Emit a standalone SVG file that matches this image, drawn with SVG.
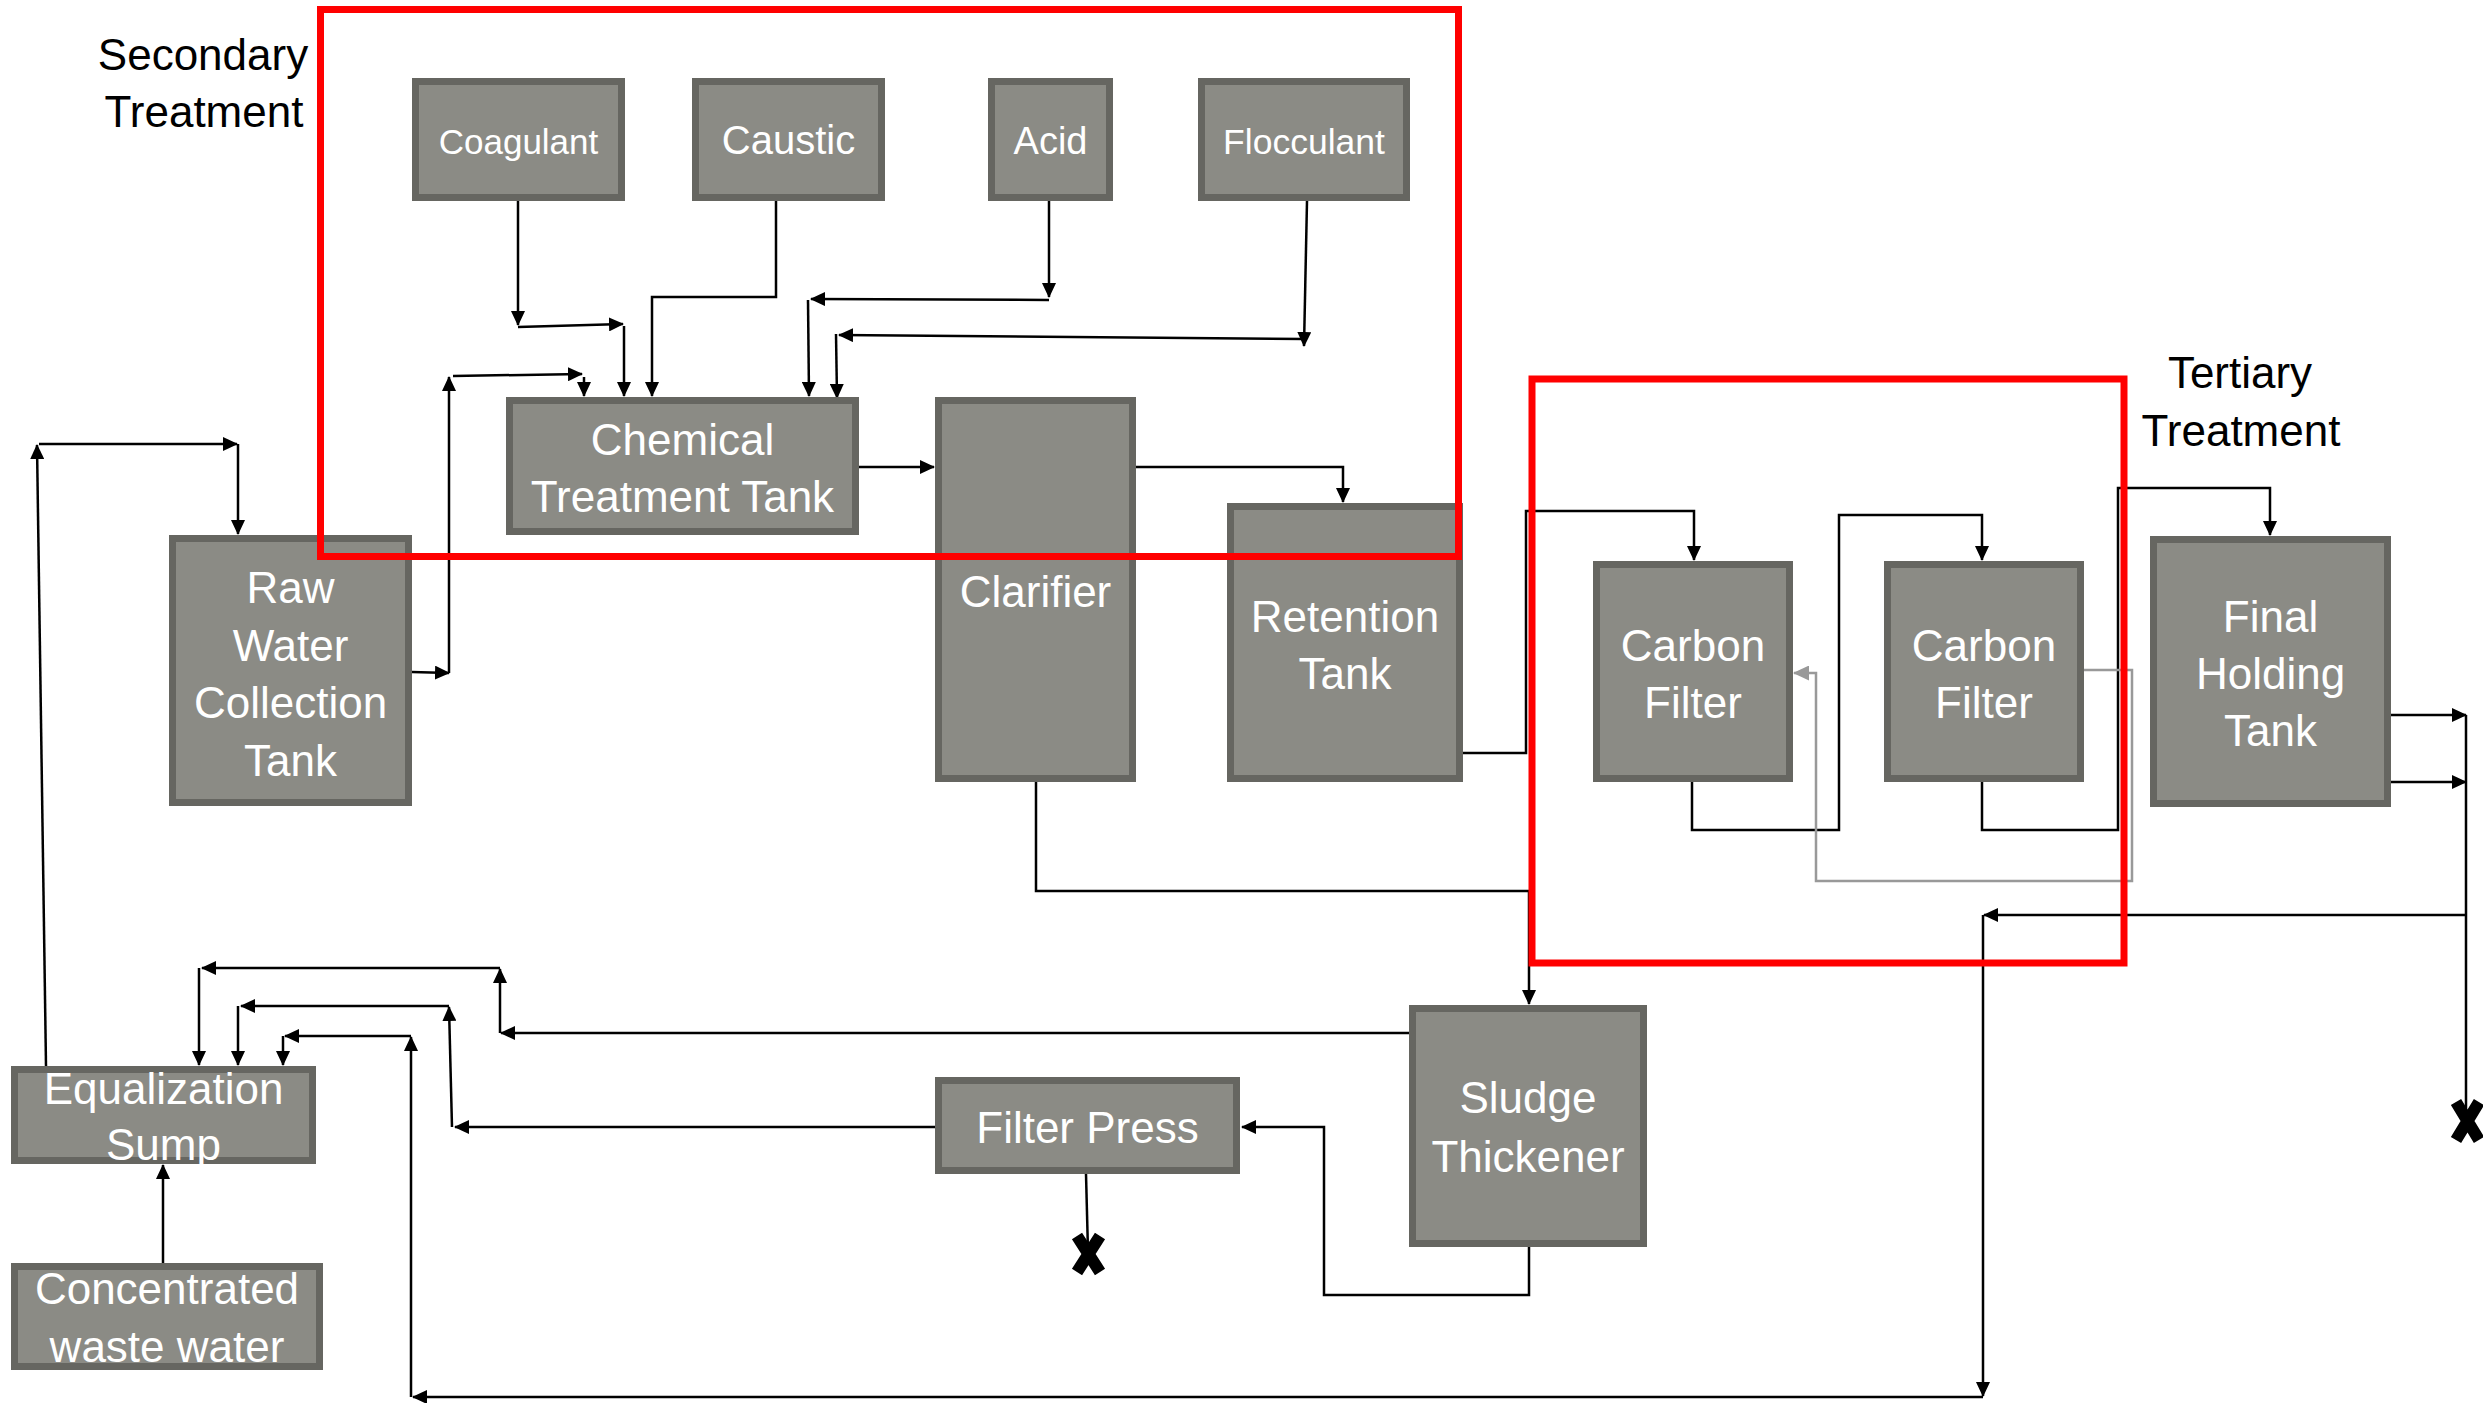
<svg xmlns="http://www.w3.org/2000/svg" width="2483" height="1403" viewBox="0 0 2483 1403">
<style>
.box{fill:#8b8b85;stroke:#666661;stroke-width:7}
.lbl{fill:#ffffff;font-family:"Liberation Sans",Arial,sans-serif;font-size:44px;text-anchor:middle}
.sm{font-size:36px}
.hdr{fill:#000000;font-family:"Liberation Sans",Arial,sans-serif;font-size:44px;text-anchor:middle}
.ln{fill:none;stroke:#000;stroke-width:2.5}
.ar{fill:none;stroke:#000;stroke-width:2.5;marker-end:url(#a)}
.gr{fill:none;stroke:#999;stroke-width:2.5;marker-end:url(#g)}
.red{fill:none;stroke:#ff0000;stroke-width:7}
.x{stroke:#000;stroke-width:12}
</style>
<defs>
<marker id="a" viewBox="0 0 15 14" refX="14" refY="7" markerWidth="15" markerHeight="14" markerUnits="userSpaceOnUse" orient="auto"><path d="M0,0L15,7L0,14z" fill="#000"/></marker>
<marker id="g" viewBox="0 0 16 15" refX="15" refY="7.5" markerWidth="16" markerHeight="15" markerUnits="userSpaceOnUse" orient="auto"><path d="M0,0L16,7.5L0,15z" fill="#999"/></marker>
</defs>

<text class="hdr" x="203" y="70">Secondary</text>
<text class="hdr" x="204" y="127">Treatment</text>
<text class="hdr" x="2240" y="388">Tertiary</text>
<text class="hdr" x="2241" y="446">Treatment</text>

<g id="connectors">
<path class="ar" d="M518,201V325"/>
<path class="ar" d="M518,327L623,324"/>
<path class="ar" d="M624,326V396"/>
<path class="ar" d="M776,201V297H652V396"/>
<path class="ar" d="M1049,201V297"/>
<path class="ar" d="M1049,300L811,299"/>
<path class="ar" d="M808,300L809,396"/>
<path class="ar" d="M1307,201L1304,346"/>
<path class="ar" d="M1304,339L839,335"/>
<path class="ar" d="M836,334L837,398"/>
<path class="ar" d="M412,672L449,673"/>
<path class="ar" d="M449,673V377"/>
<path class="ar" d="M453,376L582,374"/>
<path class="ar" d="M584,377V396"/>
<path class="ar" d="M859,467H934"/>
<path class="ar" d="M1136,467H1343V502"/>
<path class="ar" d="M1463,753H1526V511H1694V560"/>
<path class="ar" d="M1692,782V830H1839V515H1982V560"/>
<path class="ar" d="M1982,782V830H2118V488H2270V535"/>
<path class="gr" d="M2084,670H2132V881H1816V673H1794"/>
<path class="ar" d="M1036,782V891H1529V1004"/>
<path class="ar" d="M2391,715H2466"/>
<path class="ar" d="M2391,782H2466"/>
<path class="ln" d="M2466,715V1120"/>
<path class="ar" d="M2466,915H1984"/>
<path class="ar" d="M1983,915V1396"/>
<path class="ar" d="M1983,1397H413"/>
<path class="ar" d="M411,1397V1037"/>
<path class="ar" d="M411,1036H285"/>
<path class="ar" d="M283,1036V1065"/>
<path class="ar" d="M1409,1033H501"/>
<path class="ar" d="M500,1033V969"/>
<path class="ar" d="M500,968H202"/>
<path class="ar" d="M199,968V1065"/>
<path class="ar" d="M935,1127H455"/>
<path class="ar" d="M452,1127L449,1007"/>
<path class="ar" d="M449,1006H241"/>
<path class="ar" d="M238,1006V1065"/>
<path class="ar" d="M1529,1247V1295H1324V1127H1242"/>
<path class="ln" d="M1086,1174L1088,1252"/>
<path class="ar" d="M163,1263V1165"/>
<path class="ar" d="M46,1066L37,445"/>
<path class="ar" d="M39,444H237"/>
<path class="ar" d="M238,444V534"/>
<path class="x" d="M1077,1236L1100,1272M1100,1236L1077,1272"/>
<path class="x" d="M2456,1102L2479,1140M2479,1102L2456,1140"/>
</g>

<g id="coagulant"><rect class="box" x="415.5" y="81.5" width="206" height="116"/><text class="lbl" x="518.5" y="154" style="font-size:35px">Coagulant</text></g>
<g id="caustic"><rect class="box" x="695.5" y="81.5" width="186" height="116"/><text class="lbl" x="788.5" y="154" style="font-size:40px">Caustic</text></g>
<g id="acid"><rect class="box" x="991.5" y="81.5" width="118" height="116"/><text class="lbl" x="1050.5" y="154" style="font-size:38px">Acid</text></g>
<g id="flocculant"><rect class="box" x="1201.5" y="81.5" width="205" height="116"/><text class="lbl" x="1304" y="154" style="font-size:35.5px">Flocculant</text></g>
<g id="chemical-treatment-tank"><rect class="box" x="509.5" y="400.5" width="346" height="131"/><text class="lbl" x="682.5" y="455">Chemical</text><text class="lbl" x="682.5" y="512">Treatment Tank</text></g>
<g id="clarifier"><rect class="box" x="938.5" y="400.5" width="194" height="378"/><text class="lbl" x="1035.5" y="607">Clarifier</text></g>
<g id="retention-tank"><rect class="box" x="1230.5" y="506.5" width="229" height="272"/><text class="lbl" x="1345" y="632">Retention</text><text class="lbl" x="1345" y="689">Tank</text></g>
<g id="raw-water"><rect class="box" x="172.5" y="538.5" width="236" height="264"/><text class="lbl" x="290.5" y="603">Raw</text><text class="lbl" x="290.5" y="661">Water</text><text class="lbl" x="290.5" y="718">Collection</text><text class="lbl" x="290.5" y="776">Tank</text></g>
<g id="carbon-filter-1"><rect class="box" x="1596.5" y="564.5" width="193" height="214"/><text class="lbl" x="1693" y="661">Carbon</text><text class="lbl" x="1693" y="718">Filter</text></g>
<g id="carbon-filter-2"><rect class="box" x="1887.5" y="564.5" width="193" height="214"/><text class="lbl" x="1984" y="661">Carbon</text><text class="lbl" x="1984" y="718">Filter</text></g>
<g id="final-holding-tank"><rect class="box" x="2153.5" y="539.5" width="234" height="264"/><text class="lbl" x="2270.5" y="632">Final</text><text class="lbl" x="2270.5" y="689">Holding</text><text class="lbl" x="2270.5" y="746">Tank</text></g>
<g id="equalization-sump"><rect class="box" x="14.5" y="1069.5" width="298" height="91"/><text class="lbl" x="163.5" y="1104">Equalization</text><text class="lbl" x="163.5" y="1160">Sump</text></g>
<g id="concentrated-waste-water"><rect class="box" x="14.5" y="1266.5" width="305" height="100"/><text class="lbl" x="167" y="1304">Concentrated</text><text class="lbl" x="167" y="1362">waste water</text></g>
<g id="filter-press"><rect class="box" x="938.5" y="1080.5" width="298" height="90"/><text class="lbl" x="1087.5" y="1143">Filter Press</text></g>
<g id="sludge-thickener"><rect class="box" x="1412.5" y="1008.5" width="231" height="235"/><text class="lbl" x="1528" y="1113">Sludge</text><text class="lbl" x="1528" y="1172">Thickener</text></g>

<g id="secondary-treatment-frame"><rect class="red" x="320.5" y="9.5" width="1138" height="547"/></g>
<g id="tertiary-treatment-frame"><rect class="red" x="1532" y="379" width="592" height="584"/></g>
</svg>
